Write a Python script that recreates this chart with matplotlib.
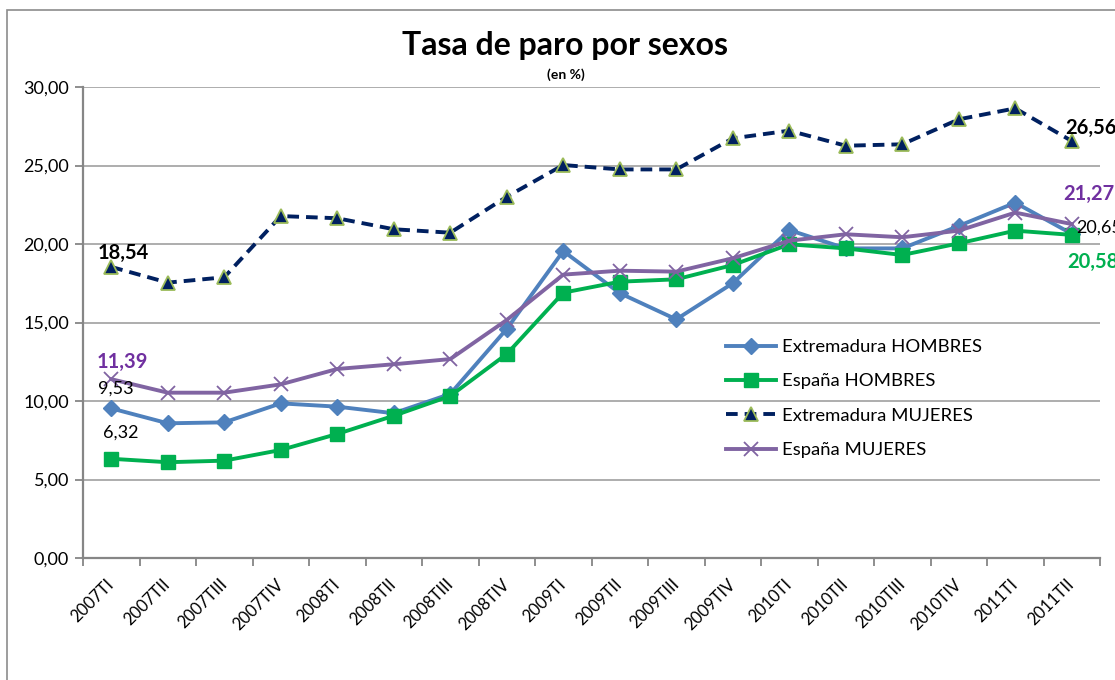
import numpy as np
import matplotlib.pyplot as plt
from matplotlib.patches import Rectangle

quarters = ["2007TI", "2007TII", "2007TIII", "2007TIV", "2008TI", "2008TII", "2008TIII", "2008TIV",
            "2009TI", "2009TII", "2009TIII", "2009TIV", "2010TI", "2010TII", "2010TIII", "2010TIV",
            "2011TI", "2011TII"]

extremadura_hombres = [9.53, 8.58, 8.64, 9.85, 9.64, 9.22, 10.45, 14.59,
                       19.55, 16.87, 15.20, 17.50, 20.89, 19.72, 19.72, 21.15, 22.63, 20.65]
espana_hombres = [6.32, 6.10, 6.20, 6.88, 7.90, 9.06, 10.32, 12.99,
                  16.90, 17.60, 17.75, 18.66, 19.98, 19.72, 19.30, 20.04, 20.85, 20.58]
extremadura_mujeres = [18.54, 17.54, 17.88, 21.78, 21.64, 20.94, 20.72, 23.01,
                       25.03, 24.75, 24.75, 26.73, 27.22, 26.26, 26.35, 27.94, 28.64, 26.56]
espana_mujeres = [11.39, 10.53, 10.53, 11.06, 12.04, 12.34, 12.67, 15.16,
                  18.05, 18.30, 18.24, 19.09, 20.21, 20.62, 20.43, 20.85, 22.00, 21.27]

plt.rcParams['font.family'] = ['Lato', 'DejaVu Sans']

fig = plt.figure(figsize=(11.15, 6.8), dpi=100)
ax = fig.add_axes([83 / 1115, 1 - 558 / 680, (1100 - 83) / 1115, (558 - 87) / 680])

# outer chart frame (runs off the right/bottom edge like the screenshot)
fig.patches.append(Rectangle((7 / 1115, -0.1), 1.2, 1 - 10 / 680 + 0.1, transform=fig.transFigure,
                             fill=False, edgecolor='#8c8c8c', linewidth=1.2))

x = np.arange(len(quarters))

ax.plot(x, extremadura_hombres, color='#4F81BD', lw=2.8, marker='D', ms=8.5,
        mfc='#4F81BD', mec='#4F81BD', label='Extremadura HOMBRES', zorder=3)
ax.plot(x, espana_hombres, color='#00B050', lw=2.8, marker='s', ms=10,
        mfc='#00B050', mec='#00B050', label='España HOMBRES', zorder=3)
ax.plot(x, extremadura_mujeres, color='#002060', lw=2.8, ls=(0, (3, 1.8)), marker='^', ms=10.5,
        mfc='#002060', mec='#9BBB59', mew=1.3, label='Extremadura MUJERES', zorder=3)
ax.plot(x, espana_mujeres, color='#8064A2', lw=2.8, marker='x', ms=10, mew=1.3,
        mfc='#8064A2', mec='#8064A2', label='España MUJERES', zorder=4)

ax.set_xlim(-0.5, len(quarters) - 0.5)
ax.set_ylim(0, 30)
ax.set_yticks(np.arange(0, 31, 5))
ax.set_yticklabels([f"{v:.2f}".replace('.', ',') for v in np.arange(0, 31, 5)], fontsize=13)
ax.yaxis.grid(True, color='#a0a0a0', lw=1.2)
ax.set_axisbelow(True)

ax.set_xticks(np.arange(-0.5, len(quarters), 1))
ax.set_xticklabels([])
ax.set_xticks(x, minor=True)
ax.set_xticklabels(quarters, minor=True, rotation=45, ha='right', va='center',
                   rotation_mode='anchor', fontsize=12)
ax.tick_params(axis='x', which='minor', length=0, pad=17)
ax.tick_params(axis='x', which='major', length=6, width=1.3, color='#868686', direction='out')
ax.tick_params(axis='y', length=6, width=1.3, color='#868686', pad=4)

for side in ['top', 'right']:
    ax.spines[side].set_visible(False)
for side in ['left', 'bottom']:
    ax.spines[side].set_color('#868686')
    ax.spines[side].set_linewidth(1.6)

fig.text(565 / 1115, 1 - 46 / 680, "Tasa de paro por sexos", ha='center', va='center',
         fontsize=23, fontweight='bold')
fig.text(566 / 1115, 1 - 75 / 680, "(en %)", ha='center', va='center', fontsize=10, fontweight='bold')

def label(xi, yi, txt, dx, dy, color='black', weight='normal', size=13, ha='center'):
    ax.annotate(txt, (xi, yi), xytext=(dx, dy), textcoords='offset pixels', ha=ha, va='center',
                color=color, fontweight=weight, fontsize=size, annotation_clip=False, zorder=6)

fmt = lambda v: f"{v:.2f}".replace('.', ',')
label(0, extremadura_mujeres[0], fmt(extremadura_mujeres[0]), 12, 14, weight='bold', size=14.5)
label(0, espana_mujeres[0], fmt(espana_mujeres[0]), 11, 17, color='#7030A0', weight='bold', size=14.5)
label(0, extremadura_hombres[0], fmt(extremadura_hombres[0]), 5, 20)
label(0, espana_hombres[0], fmt(espana_hombres[0]), 9, 26)
last = len(quarters) - 1
label(last, extremadura_mujeres[last], fmt(extremadura_mujeres[last]), -6, 13, weight='bold', size=14.5, ha='left')
label(last, espana_mujeres[last], fmt(espana_mujeres[last]), -9, 30, color='#7030A0', weight='bold', size=14.5, ha='left')
label(last, extremadura_hombres[last], fmt(extremadura_hombres[last]), 4, 6, ha='left')
label(last, espana_hombres[last], fmt(espana_hombres[last]), -4, -27, color='#00B050', weight='bold', size=14.5, ha='left')

leg = ax.legend(loc='upper left', bbox_to_anchor=((726 - 83) / (1100 - 83), (558 - 339) / (558 - 87)),
                frameon=False, fontsize=13.3, handlelength=2.7, handletextpad=0.33,
                labelspacing=1.0, borderaxespad=0, borderpad=0)

fig.savefig("out.png", dpi=100)
